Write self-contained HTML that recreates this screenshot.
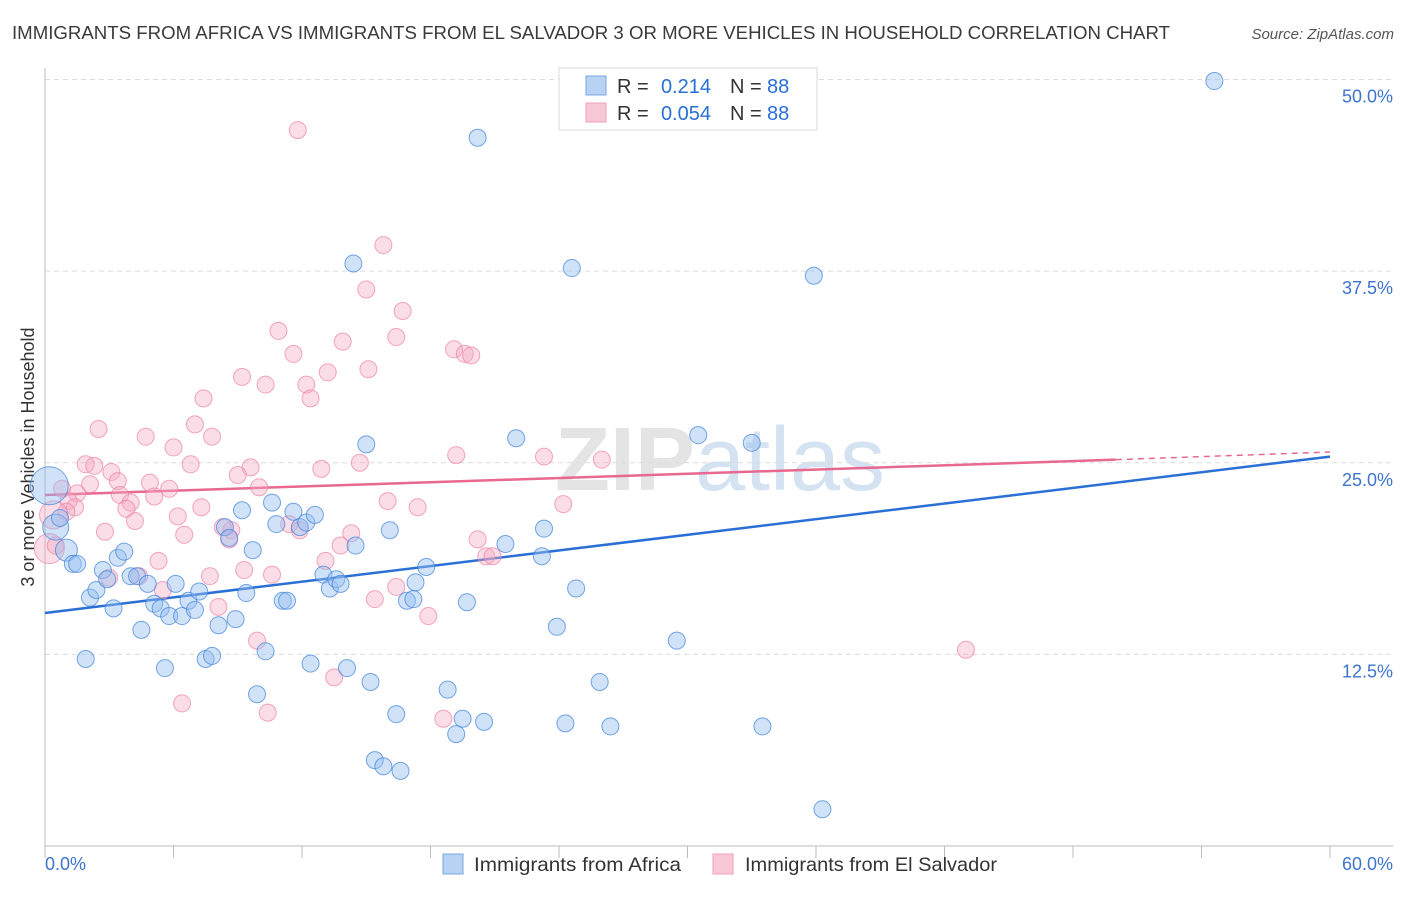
<!DOCTYPE html>
<html><head><meta charset="utf-8"><style>
body{margin:0;background:#fff;font-family:"Liberation Sans",sans-serif;}
svg text{font-family:"Liberation Sans",sans-serif;}
</style></head><body>
<svg id="chart" width="1406" height="892" xmlns="http://www.w3.org/2000/svg">
<text x="12" y="39" font-size="18" fill="#3a3a3a" textLength="1158" lengthAdjust="spacingAndGlyphs">IMMIGRANTS FROM AFRICA VS IMMIGRANTS FROM EL SALVADOR 3 OR MORE VEHICLES IN HOUSEHOLD CORRELATION CHART</text>
<text x="1394" y="39" font-size="15" fill="#555" font-style="italic" text-anchor="end">Source: ZipAtlas.com</text>
<text x="720" y="490" font-size="90" fill="#e4e4e4" text-anchor="middle" font-family="Liberation Serif"><tspan font-weight="bold">ZIP</tspan><tspan fill="#d5e2f2" font-family="Liberation Sans">atlas</tspan></text>
<text transform="translate(34,457) rotate(-90)" font-size="18" fill="#333" text-anchor="middle">3 or more Vehicles in Household</text>
<g id="grid"></g><g id="axes"></g><g id="trend"></g><g id="pts"></g>
<g>
<rect x="559" y="68" width="258" height="62" fill="#fff" stroke="#d8d8d8"/>
<rect x="586" y="76" width="20" height="19" fill="#b8d2f4" stroke="#7aa8e0"/>
<rect x="586" y="103" width="20" height="19" fill="#f8c8d6" stroke="#f0a0b8"/>
<text x="617" y="93" font-size="20" fill="#333">R =</text>
<text x="711" y="93" font-size="20" fill="#2a6fd6" text-anchor="end">0.214</text>
<text x="730" y="93" font-size="20" fill="#333">N =</text>
<text x="767" y="93" font-size="20" fill="#2a6fd6">88</text>
<text x="617" y="120" font-size="20" fill="#333">R =</text>
<text x="711" y="120" font-size="20" fill="#2a6fd6" text-anchor="end">0.054</text>
<text x="730" y="120" font-size="20" fill="#333">N =</text>
<text x="767" y="120" font-size="20" fill="#2a6fd6">88</text>
</g>
<g>
<rect x="443" y="854" width="20" height="20" fill="#b8d2f4" stroke="#7aa8e0"/>
<text x="474" y="871" font-size="19.5" fill="#333" textLength="207" lengthAdjust="spacingAndGlyphs">Immigrants from Africa</text>
<rect x="713" y="854" width="20" height="20" fill="#f8c8d6" stroke="#f0a0b8"/>
<text x="745" y="871" font-size="19.5" fill="#333" textLength="252" lengthAdjust="spacingAndGlyphs">Immigrants from El Salvador</text>
</g>
</svg>
<script>
const blueX=[54.6,20.2,14.4,24.6,35.9,15.0,22.0,30.5,33.0,0.2,0.5,0.7,1.0,1.3,1.5,1.9,2.1,2.4,2.7,2.9,3.2,3.4,3.7,4.0,4.3,4.5,4.8,5.1,5.4,5.6,5.8,6.1,6.4,6.7,7.0,7.2,7.5,7.8,8.1,8.4,8.6,8.9,9.2,9.4,9.7,9.9,10.3,10.6,10.8,11.1,11.3,11.6,11.9,12.2,12.4,12.6,13.0,13.3,13.6,13.8,14.1,14.5,15.2,15.4,15.8,16.1,16.4,16.6,16.9,17.2,17.3,17.8,18.8,19.2,19.5,19.7,20.5,21.5,23.2,23.3,23.9,24.3,24.8,25.9,26.4,29.5,33.5,36.3];
const blueY=[49.9,46.2,38.0,37.7,37.2,26.2,26.6,26.8,26.3,23.5,20.8,21.4,19.3,18.4,18.4,12.2,16.2,16.7,18.0,17.4,15.5,18.8,19.2,17.6,17.6,14.1,17.1,15.8,15.5,11.6,15.0,17.1,15.0,16.0,15.4,16.6,12.2,12.4,14.4,20.8,20.1,14.8,21.9,16.5,19.3,9.9,12.7,22.4,21.0,16.0,16.0,21.8,20.8,21.1,11.9,21.6,17.7,16.8,17.4,17.1,11.6,19.6,10.7,5.6,5.2,20.6,8.6,4.9,16.0,16.1,17.2,18.2,10.2,7.3,8.3,15.9,8.1,19.7,18.9,20.7,14.3,8.0,16.8,10.7,7.8,13.4,7.8,2.4];
const pinkX=[11.8,15.8,15.0,16.7,10.9,16.4,13.9,11.6,19.1,19.6,19.9,9.2,13.2,15.1,10.3,12.2,7.4,12.4,7.0,2.5,4.7,7.8,6.0,14.7,19.2,23.3,26.0,1.9,2.3,6.8,12.9,9.6,9.0,3.1,3.4,4.9,10.0,2.1,0.8,1.5,1.1,1.4,3.5,4.0,3.8,5.1,5.8,7.3,6.2,4.2,2.8,6.5,8.7,8.3,8.6,11.4,11.9,16.0,17.4,24.2,14.3,13.8,20.2,20.6,20.9,5.3,13.1,0.2,0.5,3.0,4.4,7.7,9.3,10.6,16.4,15.4,5.5,8.1,17.9,9.9,13.5,18.6,10.4,6.4,43.0,1.0,0.4];
const pinkY=[46.7,39.2,36.3,34.9,33.6,33.2,32.9,32.1,32.4,32.1,32.0,30.6,30.9,31.1,30.1,30.1,29.2,29.2,27.5,27.2,26.7,26.7,26.0,25.0,25.5,25.4,25.2,24.9,24.8,24.9,24.6,24.7,24.2,24.4,23.8,23.7,23.4,23.6,23.3,23.0,22.5,22.1,22.9,22.4,22.0,22.8,23.3,22.1,21.5,21.2,20.5,20.3,20.6,20.8,20.0,21.0,20.6,22.5,22.1,22.3,20.4,19.6,20.0,18.9,18.9,18.6,18.6,19.4,19.6,17.5,17.6,17.6,18.0,17.7,16.9,16.1,16.7,15.6,15.0,13.4,11.0,8.3,8.7,9.3,12.8,21.8,21.6];
const blueBig={9:19,10:13,12:11};
const pinkBig={67:15,86:14};
const blueTrendX=[0,60], blueTrendY=[15.2,25.4];
const pinkTrendX=[0,50,60], pinkTrendY=[22.9,25.2,25.7];
const yTicks=[12.5,25.0,37.5,50.0];
const xTickLabels=["0.0%","60.0%"];
const NS="http://www.w3.org/2000/svg";
const X0=45,X1=1330,YT=79.5,YB=846;
const xs=v=>X0+v/60*(X1-X0);
const ys=v=>YB-v/50*(YB-YT);
function mk(tag,attrs,parent){const e=document.createElementNS(NS,tag);for(const k in attrs)e.setAttribute(k,attrs[k]);parent.appendChild(e);return e;}
const grid=document.getElementById('grid'),axes=document.getElementById('axes'),trend=document.getElementById('trend'),pts=document.getElementById('pts');
yTicks.forEach(t=>{
 const l=mk('line',{x1:X0,x2:1393,y1:ys(t),y2:ys(t),stroke:'#dcdcdc','stroke-dasharray':'5,4'},grid);
 
 
 const tx=mk('text',{x:1393,y:ys(t)+23,'font-size':18,fill:'#3d74cf','text-anchor':'end'},grid);
 tx.textContent=t.toFixed(1)+'%';
 
 
});
const ax=mk('line',{x1:X0,x2:X0,y1:68,y2:YB,stroke:'#bbb'},axes);


const bx=mk('line',{x1:X0,x2:1393,y1:YB,y2:YB,stroke:'#bbb'},axes);


for(let i=0;i<=10;i++){
 const t=mk('line',{x1:xs(i*6),x2:xs(i*6),y1:YB,y2:YB+12,stroke:'#bbb'},axes);
 
 
}
[[0,'start',X0],[1,'end',1393]].forEach(([i,a,x])=>{
 const t=mk('text',{x:x,y:870,'font-size':18,fill:'#3d74cf','text-anchor':a},axes);
 t.textContent=xTickLabels[i];
 
 
});
function dots(X,Y,big,fill,stroke,name){
 X.forEach((v,i)=>{
  const c=mk('circle',{cx:xs(v),cy:ys(Y[i]),r:big[i]||8.5,fill:fill,stroke:stroke,'stroke-width':1},pts);
  
  
 });
}
dots(pinkX,pinkY,pinkBig,'rgba(246,170,195,0.4)','rgba(236,130,165,0.7)','el-salvador-point');
dots(blueX,blueY,blueBig,'rgba(150,190,240,0.45)','rgba(60,130,220,0.7)','africa-point');
const bl=mk('line',{x1:xs(blueTrendX[0]),y1:ys(blueTrendY[0]),x2:xs(blueTrendX[1]),y2:ys(blueTrendY[1]),stroke:'#2a6fd6','stroke-width':2.5},trend);


const pl=mk('line',{x1:xs(pinkTrendX[0]),y1:ys(pinkTrendY[0]),x2:xs(pinkTrendX[1]),y2:ys(pinkTrendY[1]),stroke:'#e8688f','stroke-width':2.5},trend);


const pd=mk('line',{x1:xs(pinkTrendX[1]),y1:ys(pinkTrendY[1]),x2:xs(pinkTrendX[2]),y2:ys(pinkTrendY[2]),stroke:'#e8688f','stroke-width':1.5,'stroke-dasharray':'6,5'},trend);


</script>
</body></html>
